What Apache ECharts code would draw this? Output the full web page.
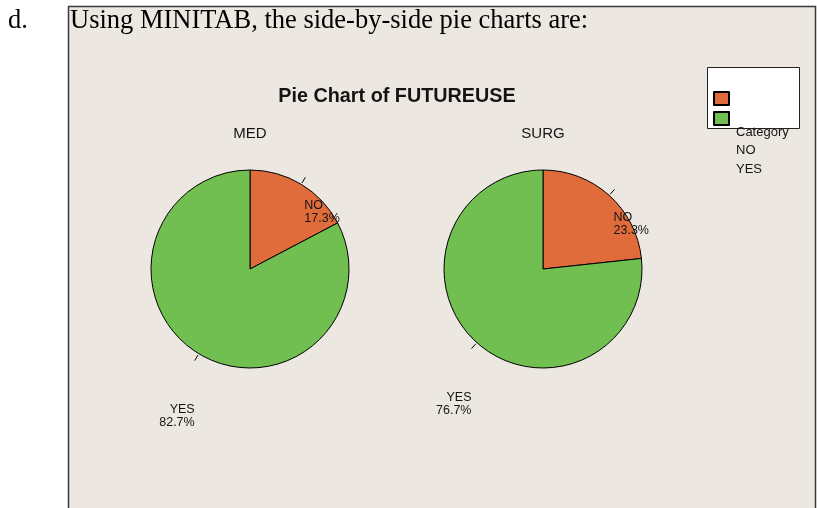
<!DOCTYPE html>
<html>
<head>
<meta charset="utf-8">
<script src="https://cdn.jsdelivr.net/npm/echarts@6/dist/echarts.min.js"></script>
<style>
  html, body { margin: 0; padding: 0; background: #ffffff; }
  #chart { width: 817px; height: 508px; }
</style>
</head>
<body>
<div id="chart"></div>
<script>
// ---- data ----
const introLetter = 'd.';
const introText = 'Using MINITAB, the side-by-side pie charts are:';
const chartTitle = 'Pie Chart of FUTUREUSE';
const legendTitle = 'Category';
const groups = ['MED', 'SURG'];
const categories = ['NO', 'YES'];
const medValues = [17.3, 82.7];
const surgValues = [23.3, 76.7];

// ---- styling / layout ----
const colors = ['#df6c3a', '#70bf50'];
const pieCenters = [[250, 269], [543, 269]];
const pieRadius = 99;
const sans = 'Liberation Sans';
const serif = 'Liberation Serif';
const textColor = '#141414';

function labelLayout(params) {
  const pts = params.labelLinePoints;
  if (!pts || pts.length < 2) return {};
  const p0 = pts[0], p1 = pts[1];
  const dx = p1[0] - p0[0], dy = p1[1] - p0[1];
  const len = Math.sqrt(dx * dx + dy * dy) || 1;
  const ux = dx / len, uy = dy / len;
  const start = [p0[0] + ux * 1.5, p0[1] + uy * 1.5];
  const right = dx > 0;
  return {
    x: p1[0] + (right ? -1 : 0),
    y: p1[1] + (right ? 21 : 42),
    align: right ? 'left' : 'right',
    verticalAlign: 'top',
    labelLinePoints: [start, p1]
  };
}

function pieSeries(values, center) {
  return {
    type: 'pie',
    center: center,
    radius: pieRadius,
    startAngle: 90,
    clockwise: true,
    avoidLabelOverlap: false,
    silent: true,
    data: categories.map((c, i) => ({ name: c, value: values[i] })),
    itemStyle: { borderColor: '#000', borderWidth: 1 },
    label: {
      show: true,
      position: 'outside',
      formatter: p => p.name + '\n' + p.value.toFixed(1) + '%',
      color: textColor,
      fontFamily: sans,
      fontSize: 12.5,
      lineHeight: 13.5
    },
    labelLine: {
      show: true,
      length: 8,
      length2: 0,
      smooth: false,
      lineStyle: { color: '#000', width: 1 }
    },
    labelLayout: labelLayout,
    emphasis: { disabled: true }
  };
}

const chart = echarts.init(document.getElementById('chart'));
chart.setOption({
  animation: false,
  backgroundColor: '#ffffff',
  color: colors,
  graphic: [
    {
      type: 'rect',
      shape: { x: 68.5, y: 6.5, width: 747, height: 520 },
      style: { fill: '#ece8e1', stroke: '#3a3a3a', lineWidth: 1.5 }
    },
    {
      type: 'rect',
      shape: { x: 707.5, y: 67.5, width: 92, height: 61 },
      style: { fill: '#ffffff', stroke: '#222', lineWidth: 1 }
    }
  ],
  title: [
    { text: introLetter, left: 8, top: 8, padding: 0, textStyle: { fontFamily: serif, fontSize: 26.5, lineHeight: 26, fontWeight: 'normal', color: '#000' } },
    { text: introText, left: 70, top: 8, padding: 0, textStyle: { fontFamily: serif, fontSize: 26.5, lineHeight: 26, fontWeight: 'normal', color: '#000' } },
    { text: chartTitle, left: 397, top: 87, padding: 0, textAlign: 'center', textStyle: { fontFamily: sans, fontSize: 19.8, lineHeight: 20, fontWeight: 'bold', color: textColor } },
    { text: groups[0], left: pieCenters[0][0], top: 126, padding: 0, textAlign: 'center', textStyle: { fontFamily: sans, fontSize: 15, lineHeight: 15, fontWeight: 'normal', color: textColor } },
    { text: groups[1], left: pieCenters[1][0], top: 126, padding: 0, textAlign: 'center', textStyle: { fontFamily: sans, fontSize: 15, lineHeight: 15, fontWeight: 'normal', color: textColor } },
    { text: [legendTitle].concat(categories).join('\n'), left: 736, top: 123, padding: 0, textStyle: { fontFamily: sans, fontSize: 13, lineHeight: 18.5, fontWeight: 'normal', color: textColor } }
  ],
  legend: {
    data: categories,
    orient: 'vertical',
    left: 713,
    top: 91,
    padding: 0,
    itemWidth: 15,
    itemHeight: 13,
    itemGap: 5,
    icon: 'rect',
    selectedMode: false,
    formatter: () => '',
    textStyle: { fontSize: 1 }
  },
  series: [
    pieSeries(medValues, pieCenters[0]),
    pieSeries(surgValues, pieCenters[1])
  ]
});
</script>
</body>
</html>
